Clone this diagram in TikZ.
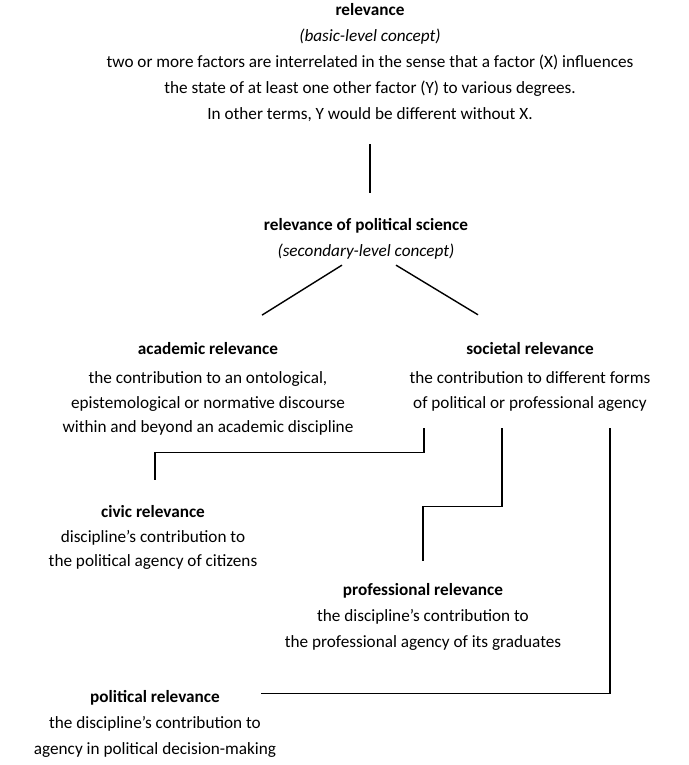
\documentclass[tikz,border=0pt]{standalone}
\usepackage{fontspec}
\setmainfont{Carlito}
\usepackage{tikz}

\tikzset{
	concept/.style={align=center, inner sep=0pt, font=\fontsize{17.2}{26}\selectfont},
	tight/.style={font=\fontsize{17.2}{24.5}\selectfont},
	link/.style={line width=1.4pt}
}

\begin{document}
\begin{tikzpicture}[x=1pt, y=-1pt]
	\useasboundingbox (0,0) rectangle (688,765);

	% concepts
	\node [concept] (rel) at (370, 63) {\textbf{relevance}\\ \textit{(basic-level concept)}\\ two or more factors are interrelated in the sense that a factor (X) influences\\ the state of at least one other factor (Y) to various degrees.\\ In other terms, Y would be different without X.};
	\node [concept] (pol) at (366, 238.5) {\textbf{relevance of political science}\\ \textit{(secondary-level concept)}};

	\node [concept, tight] (acad) at (208, 389) {\textbf{academic relevance}\\[5pt] the contribution to an ontological,\\ epistemological or normative discourse\\ within and beyond an academic discipline};
	\node [concept, tight] (soc) at (530, 376.5) {\textbf{societal relevance}\\[5pt] the contribution to different forms\\ of political or professional agency};

	\node [concept, tight] (civic) at (153, 537.5) {\textbf{civic relevance}\\ discipline's contribution to\\ the political agency of citizens};
	\node [concept] (prof) at (423, 616.5) {\textbf{professional relevance}\\ the discipline's contribution to\\ the professional agency of its graduates};
	\node [concept] (polit) at (155, 723.5) {\textbf{political relevance}\\ the discipline's contribution to\\ agency in political decision-making};

	% links
	\draw [link] ([yshift=-22pt]rel.south) -- ([xshift=4pt, yshift=25pt]pol.north);
	\draw [link] ([xshift=-24pt, yshift=-6pt]pol.south) -- ([xshift=54pt, yshift=27pt]acad.north);
	\draw [link] ([xshift=30pt, yshift=-6pt]pol.south) -- ([xshift=-52pt, yshift=27pt]soc.north);

	\draw [link] ([xshift=-106pt, yshift=-17pt]soc.south) -- ++(0,24) -| ([xshift=2pt, yshift=25pt]civic.north);
	\draw [link] ([xshift=-28pt, yshift=-17pt]soc.south) -- ++(0,78) -| ([yshift=22pt]prof.north);
	\draw [link] ([xshift=80pt, yshift=-17pt]soc.south) |- ([xshift=-15pt, yshift=-4pt]polit.north east);
\end{tikzpicture}
\end{document}
